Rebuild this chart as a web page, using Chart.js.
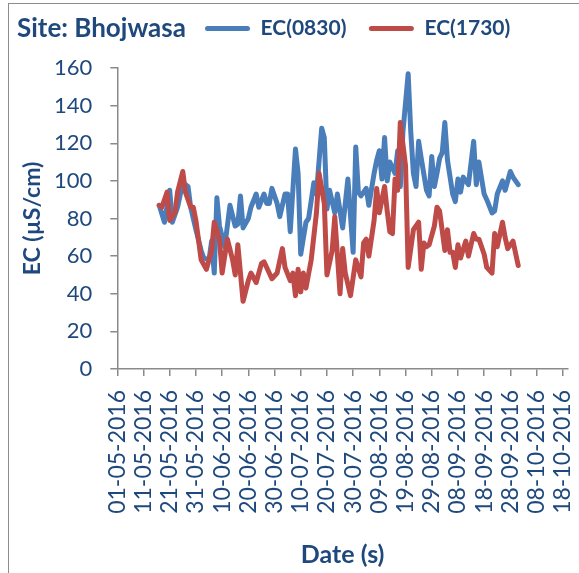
<!DOCTYPE html>
<html>
<head>
<meta charset="utf-8">
<script src="https://cdn.jsdelivr.net/npm/chart.js@4.4.1/dist/chart.umd.min.js"></script>
<style>
    html, body { margin: 0; padding: 0; background: #fff; overflow: hidden; }
    #wrap { position: relative; width: 579px; height: 573px; overflow: hidden; }
    #frame { position: absolute; left: 8px; top: 3px; width: 640px; height: 640px; border: 1.5px solid #8c8c8c; }
    #siteTitle { position: absolute; left: 17px; top: 14px; font: bold 26px Lato; line-height: 1; color: #1F497D; white-space: nowrap; }
    canvas { position: absolute; left: 0; top: 0; }
</style>
</head>
<body>
<div id="wrap">
    <div id="frame"></div>
    <canvas id="ecChart" width="579" height="573"></canvas>
    <div id="siteTitle">Site: Bhojwasa</div>
</div>
<script>
// x tick labels, one every 10 days from 01-05-2016
const tickLabels = [
    '01-05-2016', '11-05-2016', '21-05-2016', '31-05-2016', '10-06-2016', '20-06-2016',
    '30-06-2016', '10-07-2016', '20-07-2016', '30-07-2016', '09-08-2016', '19-08-2016',
    '29-08-2016', '08-09-2016', '18-09-2016', '28-09-2016', '08-10-2016', '18-10-2016'
];

// days since 01-05-2016 and EC values (µS/cm)
const days0830 = [16, 18, 20, 21, 23, 25, 27, 28, 30, 32, 33, 35, 36, 37, 38, 39, 41, 42, 43, 45,
    46, 47, 48, 50, 51, 53, 54, 56, 57, 58, 59, 61, 62, 64, 65, 66, 68, 69, 70, 72,
    73, 75, 76, 78, 79, 80, 81, 83, 84, 86, 88, 90, 91, 92, 93, 95, 96, 98, 99, 100,
    101, 102, 103, 104, 106, 107, 108, 109, 111, 112, 113, 114, 115, 116, 118, 119, 120, 121, 122, 123,
    124, 125, 126, 128, 129, 130, 131, 132, 134, 136, 137, 138, 140, 141, 143, 144, 145, 147, 148, 150,
    151, 153];
const ec0830 = [87, 78, 95, 78, 86, 99, 97, 86, 74, 63, 59, 58, 68, 51, 91, 76, 65, 76, 87, 76,
    77, 92, 75, 80, 86, 93, 86, 93, 88, 88, 96, 88, 81, 93, 93, 73, 117, 104, 61, 78,
    80, 99, 93, 128, 123, 85, 95, 83, 93, 75, 101, 62, 118, 94, 92, 96, 87, 104, 111, 116,
    101, 123, 100, 110, 104, 116, 97, 126, 157, 126, 104, 97, 121, 112, 95, 92, 113, 97, 104, 112,
    115, 131, 111, 93, 89, 101, 94, 102, 98, 121, 98, 110, 93, 90, 83, 84, 93, 100, 95, 105,
    102, 98];

const days1730 = [16, 17, 19, 20, 22, 23, 25, 26, 28, 29, 30, 32, 34, 36, 37, 39, 40, 42, 44, 45,
    46, 47, 48, 50, 51, 53, 55, 56, 59, 61, 63, 64, 66, 67, 68, 69, 70, 71, 72, 74,
    76, 77, 79, 80, 82, 83, 85, 86, 87, 89, 91, 93, 94, 95, 96, 98, 99, 100, 102, 103,
    104, 105, 106, 107, 108, 110, 111, 113, 114, 115, 116, 117, 118, 119, 121, 122, 123, 125, 126, 127,
    128, 129, 130, 131, 133, 134, 136, 137, 138, 140, 141, 143, 144, 145, 147, 148, 149, 151, 153];
const ec1730 = [87, 86, 94, 79, 83, 94, 105, 94, 86, 86, 79, 58, 53, 63, 78, 69, 51, 69, 58, 50,
    66, 51, 36, 47, 51, 46, 56, 57, 48, 51, 64, 54, 47, 51, 39, 53, 41, 51, 43, 58,
    83, 104, 88, 50, 63, 81, 40, 64, 51, 39, 58, 49, 67, 69, 60, 79, 96, 83, 97, 84,
    73, 72, 101, 95, 131, 108, 54, 74, 76, 78, 53, 67, 65, 66, 76, 86, 84, 63, 74, 62,
    62, 54, 66, 59, 68, 60, 72, 69, 69, 61, 54, 51, 72, 65, 78, 70, 64, 68, 55];

const textColor = '#1F497D';
const axisColor = '#8a8a8a';

// legend sits on the same row as the site title, right of it
const legendPlace = {
    id: 'legendPlace',
    beforeInit(chart) {
        const fit = chart.legend.fit;
        chart.legend.fit = function () {
            fit.call(this);
            this.height = 68;
        };
    },
    afterLayout(chart) {
        chart.legend.left = 182.5;
        chart.legend.top = -4.5;
    }
};

const ctx = document.getElementById('ecChart').getContext('2d');
const ecChart = new Chart(ctx, {
    type: 'line',
    data: {
        datasets: [{
            label: 'EC(0830)',
            data: days0830.map((d, i) => ({ x: d, y: ec0830[i] })),
            borderColor: '#4A7EBB',
            backgroundColor: '#4A7EBB',
            borderWidth: 5,
            borderJoinStyle: 'round',
            borderCapStyle: 'round',
            pointRadius: 0,
            order: 1
        }, {
            label: 'EC(1730)',
            data: days1730.map((d, i) => ({ x: d, y: ec1730[i] })),
            borderColor: '#BE4B48',
            backgroundColor: '#BE4B48',
            borderWidth: 5,
            borderJoinStyle: 'round',
            borderCapStyle: 'round',
            pointRadius: 0,
            order: 0
        }]
    },
    options: {
        responsive: false,
        animation: false,
        layout: { padding: { top: 0, right: 11, left: 0, bottom: 0 } },
        plugins: {
            tooltip: { enabled: false },
            legend: {
                display: true,
                position: 'top',
                align: 'start',
                labels: {
                    boxWidth: 45,
                    boxHeight: 5,
                    padding: 22.5,
                    color: textColor,
                    useBorderRadius: true,
                    borderRadius: 2.5,
                    font: { family: 'Lato', size: 21, weight: 'bold' },
                    sort: (a, b) => a.datasetIndex - b.datasetIndex,
                    generateLabels: chart => Chart.defaults.plugins.legend.labels.generateLabels(chart)
                        .map(item => ({ ...item, lineWidth: 0 }))
                }
            }
        },
        scales: {
            x: {
                type: 'linear',
                min: 0,
                max: 172,
                afterBuildTicks: scale => {
                    scale.ticks = tickLabels.map((t, i) => ({ value: i * 10 }));
                },
                afterFit: scale => {
                    scale.height = 204;
                    scale.paddingLeft = 0;
                    scale.paddingRight = 0;
                },
                ticks: {
                    autoSkip: false,
                    minRotation: 90,
                    maxRotation: 90,
                    padding: 14,
                    color: textColor,
                    font: { family: 'Lato', size: 23 },
                    callback: value => tickLabels[Math.round(value / 10)] || ''
                },
                grid: { display: true, drawOnChartArea: false, drawTicks: true, tickLength: 7, color: axisColor, lineWidth: 1.5 },
                border: { display: true, color: axisColor, width: 1.5 },
                title: {
                    display: true,
                    text: 'Date (s)',
                    color: textColor,
                    font: { family: 'Lato', size: 25, weight: 'bold' },
                    padding: { top: 0, bottom: 3 }
                }
            },
            y: {
                min: 0,
                max: 160,
                afterFit: scale => {
                    scale.width = 117.3;
                },
                ticks: {
                    stepSize: 20,
                    padding: 18,
                    color: textColor,
                    font: { family: 'Lato', size: 22 }
                },
                grid: { display: true, drawOnChartArea: false, drawTicks: true, tickLength: 7, color: axisColor, lineWidth: 1.5 },
                border: { display: true, color: axisColor, width: 1.5 },
                title: {
                    display: true,
                    text: 'EC (µS/cm)',
                    color: textColor,
                    font: { family: 'Lato', size: 23, weight: 'bold' },
                    padding: { top: 19, bottom: 0 }
                }
            }
        }
    },
    plugins: [legendPlace]
});
</script>
</body>
</html>
